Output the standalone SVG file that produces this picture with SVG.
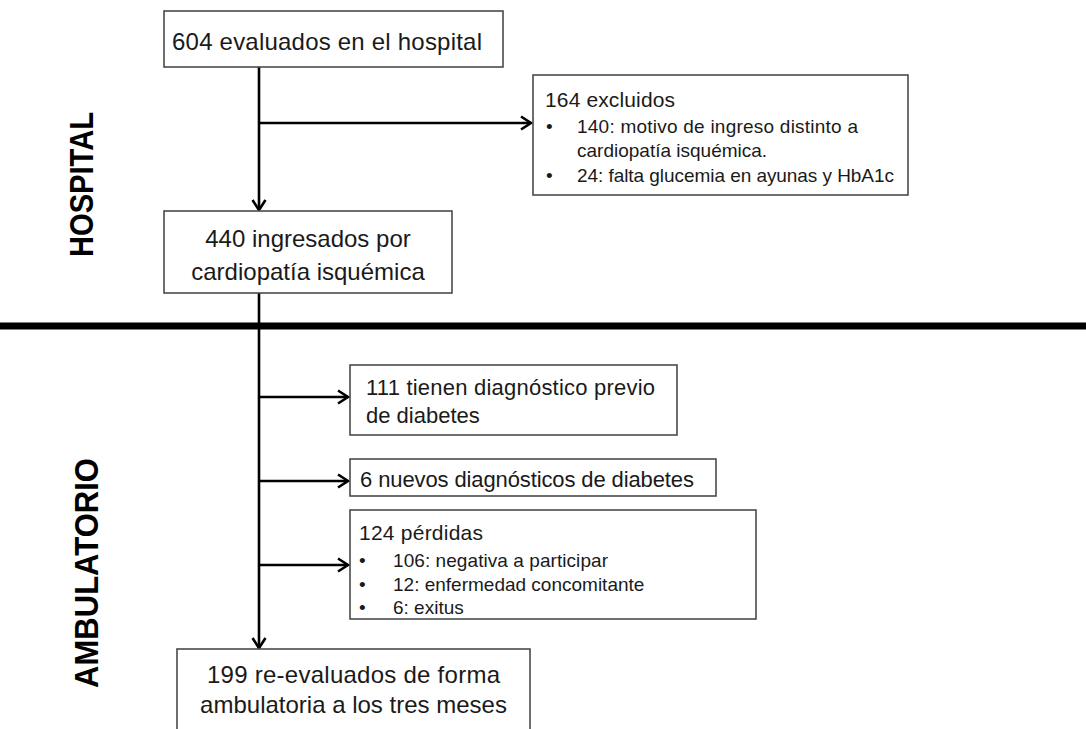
<svg xmlns="http://www.w3.org/2000/svg" width="1086" height="729" viewBox="0 0 1086 729">
<style>
.box{fill:#fff;stroke:#4a4a4a;stroke-width:1.6}
.t{font-family:"Liberation Sans",Arial,sans-serif;fill:#1a1a1a}
.big{font-size:24px}
.mid{font-size:22px}
.sm{font-size:19px}
.sec{font-family:"Liberation Sans",Arial,sans-serif;font-weight:bold;font-size:34px;fill:#000}
.ln{stroke:#000;stroke-width:2.6;fill:none}
</style>
<defs>
<marker id="ah" markerUnits="userSpaceOnUse" markerWidth="16" markerHeight="16" viewBox="-13 -8 16 16" refX="0" refY="0" orient="auto">
<path d="M-10,-6.5 L0,0 L-10,6.5" fill="none" stroke="#000" stroke-width="2.6"/>
</marker>
</defs>

<g id="divider">
<line x1="0" y1="326" x2="1086" y2="326" stroke="#000" stroke-width="7"/>
</g>

<g id="labels">
<text class="sec" transform="translate(93,184.5) rotate(-90)" text-anchor="middle" textLength="145" lengthAdjust="spacingAndGlyphs">HOSPITAL</text>
<text class="sec" transform="translate(98,573) rotate(-90)" text-anchor="middle" textLength="230" lengthAdjust="spacingAndGlyphs">AMBULATORIO</text>
</g>

<g id="connectors">
<line class="ln" x1="259" y1="67" x2="259" y2="210" marker-end="url(#ah)"/>
<line class="ln" x1="259" y1="123" x2="531" y2="123" marker-end="url(#ah)"/>
<line class="ln" x1="259" y1="293" x2="259" y2="648" marker-end="url(#ah)"/>
<line class="ln" x1="259" y1="397" x2="348" y2="397" marker-end="url(#ah)"/>
<line class="ln" x1="259" y1="481" x2="348" y2="481" marker-end="url(#ah)"/>
<line class="ln" x1="259" y1="565" x2="348" y2="565" marker-end="url(#ah)"/>
</g>

<g id="n1">
<rect class="box" x="164" y="11" width="339" height="56"/>
<text class="t big" x="172" y="50" textLength="310">604 evaluados en el hospital</text>
</g>

<g id="n2">
<rect class="box" x="533" y="75" width="375" height="120"/>
<text class="t" x="545" y="107" font-size="21" textLength="130">164 excluidos</text>
<text class="t sm" x="546" y="133">•</text>
<text class="t sm" x="577" y="133" textLength="281">140: motivo de ingreso distinto a</text>
<text class="t sm" x="577" y="157">cardiopatía isquémica.</text>
<text class="t sm" x="546" y="182">•</text>
<text class="t sm" x="577" y="182" textLength="317">24: falta glucemia en ayunas y HbA1c</text>
</g>

<g id="n3">
<rect class="box" x="164" y="211" width="288" height="82"/>
<text class="t big" x="308" y="247" text-anchor="middle">440 ingresados por</text>
<text class="t big" x="308" y="280" text-anchor="middle">cardiopatía isquémica</text>
</g>

<g id="n4">
<rect class="box" x="350" y="365" width="327" height="70"/>
<text class="t mid" x="366" y="395" textLength="289">111 tienen diagnóstico previo</text>
<text class="t mid" x="366" y="423">de diabetes</text>
</g>

<g id="n5">
<rect class="box" x="350" y="459" width="366" height="37"/>
<text class="t mid" x="360" y="487" textLength="334">6 nuevos diagnósticos de diabetes</text>
</g>

<g id="n6">
<rect class="box" x="350" y="510" width="406" height="109"/>
<text class="t" x="359" y="540" font-size="21" textLength="124">124 pérdidas</text>
<text class="t sm" x="359" y="567">•</text>
<text class="t sm" x="393" y="567" textLength="215">106: negativa a participar</text>
<text class="t sm" x="359" y="591">•</text>
<text class="t sm" x="393" y="591">12: enfermedad concomitante</text>
<text class="t sm" x="359" y="614">•</text>
<text class="t sm" x="393" y="614">6: exitus</text>
</g>

<g id="n7">
<rect class="box" x="177" y="649" width="353" height="100"/>
<text class="t big" x="353.5" y="683" text-anchor="middle" textLength="293">199 re-evaluados de forma</text>
<text class="t big" x="353.5" y="713" text-anchor="middle">ambulatoria a los tres meses</text>
</g>
</svg>
